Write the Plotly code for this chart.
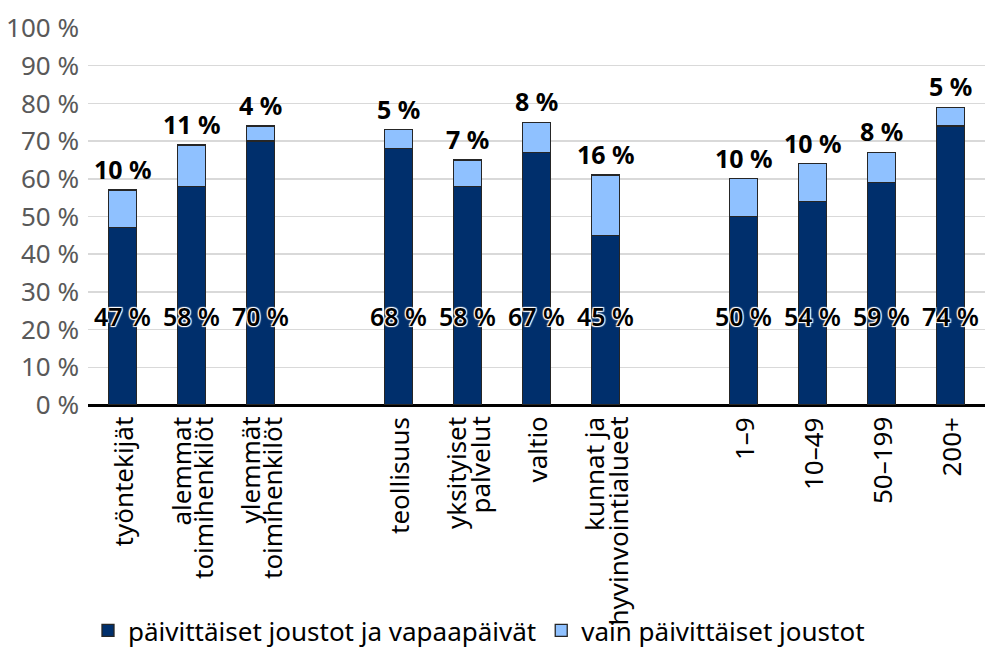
import plotly.graph_objects as go

categories = ["työntekijät", "alemmat<br>toimihenkilöt", "ylemmät<br>toimihenkilöt",
              "teollisuus", "yksityiset<br>palvelut", "valtio", "kunnat ja<br>hyvinvointialueet",
              "1–9", "10–49", "50–199", "200+"]
slots = [0, 1, 2, 4, 5, 6, 7, 9, 10, 11, 12]
daily_and_days = [47, 58, 70, 68, 58, 67, 45, 50, 54, 59, 74]
daily_only = [10, 11, 4, 5, 7, 8, 16, 10, 10, 8, 5]
series_names = ["päivittäiset joustot ja vapaapäivät", "vain päivittäiset joustot"]
y_ticks = [0, 10, 20, 30, 40, 50, 60, 70, 80, 90, 100]
inner_label_level = 23.6

FONT = "Noto Sans"
DARK = "#002f6c"
LIGHT = "#8fc1ff"
OUTLINE = "#262626"
LINE_STEP = 23  # px between lines of rotated category labels

fig = go.Figure()
fig.add_trace(go.Bar(x=slots, y=daily_and_days, name=series_names[0],
                     marker=dict(color=DARK, line=dict(color=OUTLINE, width=1.3)),
                     width=0.4, hoverinfo="skip"))
fig.add_trace(go.Bar(x=slots, y=daily_only, name=series_names[1],
                     marker=dict(color=LIGHT, line=dict(color=OUTLINE, width=1.3)),
                     width=0.4, hoverinfo="skip"))

annotations = []
for s, d, l in zip(slots, daily_and_days, daily_only):
    annotations.append(dict(x=s, y=inner_label_level, xref="x", yref="y", text=f"{d} %",
                            showarrow=False, yanchor="middle",
                            font=dict(family=FONT, size=25, color="black", weight=600,
                                      shadow="1px 1px 1px #fff, -1px -1px 1px #fff, 1px -1px 1px #fff, -1px 1px 1px #fff")))
    annotations.append(dict(x=s, y=d + l, xref="x", yref="y", text=f"<b>{l} %</b>",
                            showarrow=False, yanchor="bottom", yshift=2,
                            font=dict(family=FONT, size=25, color="black")))
for s, c in zip(slots, categories):
    lines = c.split("<br>")
    n = len(lines)
    for i, line in enumerate(lines):
        annotations.append(dict(x=s, y=0, xref="x", yref="paper", text=line, textangle=-90,
                                showarrow=False, xanchor="center", yanchor="top", yshift=-10,
                                xshift=(i - (n - 1) / 2) * LINE_STEP,
                                font=dict(family=FONT, size=26, color="black")))

fig.update_layout(
    barmode="stack",
    width=987, height=654,
    margin=dict(l=88, r=2, t=28, b=249),
    paper_bgcolor="white", plot_bgcolor="white",
    font=dict(family=FONT, size=26, color="black"),
    bargap=0,
    showlegend=True,
    legend=dict(orientation="h", x=0.0, xanchor="left", y=0.0, yanchor="bottom",
                yref="container",
                font=dict(family=FONT, size=26, color="black"), traceorder="normal",
                itemwidth=30),
    annotations=annotations,
    xaxis=dict(range=[-0.5, 12.5], tickmode="array", tickvals=slots, showticklabels=False,
               showgrid=False, zeroline=False, showline=False, automargin=False,
               ticks=""),
    yaxis=dict(range=[0, 100], tickmode="array", tickvals=y_ticks,
               ticktext=[f"{v} %" for v in y_ticks], showgrid=True, automargin=False,
               gridcolor="#d9d9d9", gridwidth=1.5, zeroline=True, zerolinecolor="black",
               zerolinewidth=3, showline=False, ticks="", ticklabelstandoff=8,
               tickfont=dict(family=FONT, size=26, color="#595959")),
)

fig.write_html("out.html", config={"displayModeBar": False, "staticPlot": True},
               post_script="document.body.style.margin='0';document.body.style.overflow='hidden';")
